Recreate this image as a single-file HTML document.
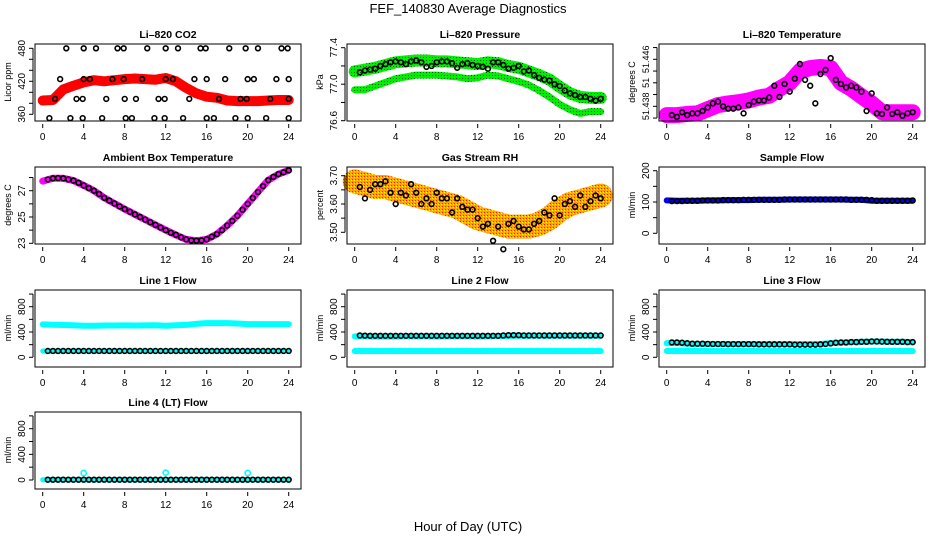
<!DOCTYPE html>
<html><head><meta charset="utf-8"><style>
html,body{margin:0;padding:0;background:#fff;}
svg{display:block;font-family:"Liberation Sans",sans-serif;}
</style></head><body>
<svg id="chart" width="936" height="540" viewBox="0 0 936 540">
<defs>
<pattern id="patGreen" width="3" height="3" patternUnits="userSpaceOnUse"><rect width="3" height="3" fill="#00ee00"/><rect width="1" height="1" fill="#005500"/></pattern>
<pattern id="patOrange" width="3" height="3" patternUnits="userSpaceOnUse"><rect width="3" height="3" fill="#ffa500"/><rect width="1" height="1" fill="#ffff00"/><rect x="1" y="2" width="1" height="1" fill="#ee2200"/></pattern>
</defs>
<text x="468" y="13" text-anchor="middle" font-size="13">FEF_140830  Average Diagnostics</text>
<text x="468" y="531" text-anchor="middle" font-size="13">Hour of Day (UTC)</text>
</svg>
<script>
// ---- data ----
const hours = [0,1,2,3,4,5,6,7,8,9,10,11,12,13,14,15,16,17,18,19,20,21,22,23,24];
const times = [0.5,1,1.5,2,2.5,3,3.5,4,4.5,5,5.5,6,6.5,7,7.5,8,8.5,9,9.5,10,10.5,11,11.5,12,12.5,13,13.5,14,14.5,15,15.5,16,16.5,17,17.5,18,18.5,19,19.5,20,20.5,21,21.5,22,22.5,23,23.5,24];
const xTicks = [0,4,8,12,16,20,24];

const co2Band = [385,386,405,412,418,422,420,422,424,425,424,423,426,420,408,398,392,390,385,384,384,384,385,386,386];
const co2Times = [2.3,4.0,5.2,7.3,7.9,10.2,12.0,13.2,15.4,15.9,18.2,19.8,21.0,23.3,23.9, 1.7,4.0,4.6,6.8,7.9,9.7,12.0,12.7,14.8,16.0,17.8,20.0,20.6,22.8,24.0, 1.2,3.3,3.9,6.2,8.0,9.1,11.3,11.9,14.3,17.2,19.3,19.9,22.2,24.0, 0.65,2.7,3.9,5.8,8.1,8.7,10.9,11.9,13.7,16.0,16.7,18.8,20.0,21.8,24.0];
const co2Vals = [480,480,480,480,480,480,480,480,480,480,480,480,480,480,480, 424,424,424,424,424,424,424,424,424,424,424,424,424,424,424, 388,388,388,388,388,388,388,388,388,388,388,388,388,388, 353,353,353,353,353,353,353,353,353,353,353,353,353,353,353];

const presUpper = [77.14,77.16,77.18,77.21,77.24,77.25,77.26,77.26,77.25,77.25,77.24,77.23,77.22,77.24,77.23,77.2,77.18,77.14,77.1,77.05,76.97,76.9,76.86,76.85,76.85];
const presLower = [76.94,76.94,76.98,77.02,77.06,77.08,77.1,77.1,77.1,77.09,77.08,77.06,77.07,77.1,77.09,77.06,77.03,76.99,76.93,76.86,76.78,76.72,76.68,76.7,76.7];
const presBlack = [77.13,77.15,77.16,77.17,77.2,77.22,77.24,77.25,77.24,77.22,77.25,77.26,77.24,77.19,77.2,77.24,77.25,77.25,77.23,77.18,77.22,77.23,77.21,77.2,77.19,77.17,77.24,77.24,77.21,77.17,77.18,77.2,77.14,77.15,77.1,77.07,77.05,77.04,77.0,76.98,76.93,76.9,76.88,76.86,76.86,76.84,76.82,76.84];

const ltBand = [51.4365,51.4365,51.4367,51.4368,51.4375,51.4382,51.4385,51.4387,51.439,51.4395,51.4398,51.441,51.442,51.444,51.4445,51.4447,51.4445,51.442,51.441,51.4397,51.4385,51.437,51.437,51.437,51.437];
const ltBlack = [51.4365,51.4362,51.437,51.4365,51.4368,51.4368,51.4372,51.4378,51.4385,51.4388,51.438,51.4376,51.4376,51.4378,51.4368,51.4382,51.4388,51.439,51.439,51.4395,51.4415,51.4396,51.4418,51.4405,51.4427,51.4452,51.4425,51.4415,51.4385,51.4435,51.4442,51.4462,51.4425,51.4418,51.4412,51.4415,51.4412,51.4405,51.4372,51.4402,51.4368,51.4367,51.4378,51.4367,51.437,51.4364,51.4368,51.437];

const ambBand = [27.73,27.94,27.94,27.77,27.4,27.0,26.46,26.03,25.6,25.2,24.8,24.4,24.0,23.64,23.3,23.2,23.3,23.7,24.35,25.1,26.0,26.9,27.8,28.26,28.55];
const ambBlack = [27.85,27.94,27.96,27.94,27.86,27.77,27.6,27.4,27.2,27.0,26.75,26.46,26.25,26.03,25.8,25.6,25.4,25.2,25.0,24.8,24.6,24.4,24.2,24.0,23.8,23.64,23.45,23.3,23.22,23.2,23.22,23.3,23.5,23.7,24.0,24.35,24.7,25.1,25.55,26.0,26.45,26.9,27.35,27.8,28.05,28.26,28.4,28.55];

const rhBand = [3.68,3.67,3.66,3.66,3.65,3.64,3.63,3.62,3.61,3.6,3.59,3.57,3.55,3.54,3.53,3.52,3.52,3.52,3.53,3.55,3.58,3.6,3.61,3.62,3.63];
const rhBlack = [3.66,3.62,3.65,3.67,3.67,3.68,3.64,3.6,3.64,3.63,3.67,3.64,3.6,3.62,3.6,3.64,3.62,3.62,3.57,3.62,3.59,3.58,3.58,3.55,3.52,3.53,3.47,3.52,3.44,3.53,3.54,3.52,3.51,3.51,3.53,3.54,3.57,3.56,3.62,3.56,3.6,3.61,3.59,3.63,3.59,3.61,3.63,3.62];

const sampleBand = [105,104,104,104,105,105,106,106,106,107,107,107,108,108,108,108,108,108,107,107,104,104,104,104,104];
const sampleBlack = [103,103,103,104,104,104,105,105,105,105,106,106,106,106,107,107,107,107,107,107,107,107,108,108,108,108,108,108,108,108,108,108,108,108,108,107,107,107,107,106,104,104,104,104,104,104,104,105];

const l1High = [520,515,510,508,500,500,502,503,505,503,505,508,500,508,512,530,540,540,540,535,525,525,525,525,525];
const l1Low = [100,100,100,100,100,100,100,100,100,100,100,100,100,100,100,100,100,100,100,100,100,100,100,100,100];
const l1Black = [100,100,100,100,100,100,100,100,100,100,100,100,100,100,100,100,100,100,100,100,100,100,100,100,100,100,100,100,100,100,100,100,100,100,100,100,100,100,100,100,100,100,100,100,100,100,100,100];

const l2High = [330,330,328,328,328,330,330,330,328,330,330,330,328,330,335,338,340,340,340,340,340,340,340,340,340];
const l2Low = [100,100,100,100,100,100,100,100,100,100,100,100,100,100,100,100,100,100,100,100,100,100,100,100,100];
const l2Black = [345,342,340,340,340,340,340,340,340,340,340,340,340,340,340,340,340,340,340,340,340,340,340,340,340,340,340,340,345,350,350,350,345,345,345,345,345,345,345,345,345,345,345,345,345,345,345,345];

const l3High = [225,225,215,210,210,210,210,210,210,210,210,210,210,210,210,210,225,230,240,245,250,250,245,245,240];
const l3Low = [100,100,100,100,100,100,100,100,100,100,100,100,100,100,100,100,100,100,100,100,100,100,100,100,100];
const l3Black = [235,235,230,222,215,215,215,212,210,210,210,208,208,208,208,208,208,205,205,205,205,205,205,205,200,200,200,200,200,205,210,220,230,235,235,240,240,245,245,250,250,248,245,245,245,245,240,240];

const l4Low = [5,5,5,5,5,5,5,5,5,5,5,5,5,5,5,5,5,5,5,5,5,5,5,5,5];
const l4OutT = [4,12,20];
const l4OutV = [110,115,110];
const l4Black = [5,5,5,5,5,5,5,5,5,5,5,5,5,5,5,5,5,5,5,5,5,5,5,5,5,5,5,5,5,5,5,5,5,5,5,5,5,5,5,5,5,5,5,5,5,5,5,5];

// ---- layout ----
const NS = 'http://www.w3.org/2000/svg';
const svg = document.getElementById('chart');
const colX = [0, 312, 624];
const rowTop = [44, 167, 290, 412];
const BOXL = 35, BOXR = 301, BOXH = 77;
function mk(tag, attrs, parent) {
  const e = document.createElementNS(NS, tag);
  for (const k in attrs) e.setAttribute(k, attrs[k]);
  (parent || svg).appendChild(e);
  return e;
}
function panel(cfg) {
  const g = mk('g', {});
  
  
  const ox = colX[cfg.col], top = rowTop[cfg.row];
  const xs = h => ox + 42.7 + h * (246 / 24);
  const ys = v => top + cfg.o1 + (v - cfg.v1) * (cfg.o2 - cfg.o1) / (cfg.v2 - cfg.v1);
  (cfg.bands || []).forEach(b => {
    const pts = hours.map((h, i) => xs(h).toFixed(1) + ',' + ys(b.vals[i]).toFixed(1)).join(' ');
    const pl = mk('polyline', {points: pts, fill: 'none', stroke: b.color, 'stroke-width': b.w, 'stroke-linejoin': 'round', 'stroke-linecap': 'round'}, g);
    
    
  });
  if (cfg.extra) {
    cfg.extra.t.forEach((t, i) => {
      const c = mk('circle', {cx: xs(t), cy: ys(cfg.extra.v[i]), r: 2.6, fill: 'none', stroke: cfg.extra.color, 'stroke-width': 1.6}, g);
      
      
    });
  }
  const bt = cfg.bt || times;
  cfg.black.forEach((v, i) => {
    const c = mk('circle', {cx: xs(bt[i]), cy: ys(v), r: 2.4, fill: 'none', stroke: '#000', 'stroke-width': 1.6}, g);
    
    
  });
  const box = mk('rect', {x: ox + BOXL, y: top, width: BOXR - BOXL, height: BOXH, fill: 'none', stroke: '#000', 'stroke-width': 1}, g);
  
  
  const t = mk('text', {x: ox + 168, y: top - 6, 'text-anchor': 'middle', 'font-size': 10.5, 'font-weight': 'bold'}, g);
  t.textContent = cfg.title;
  
  
  xTicks.forEach(h => {
    mk('line', {x1: xs(h), x2: xs(h), y1: top + BOXH + 3, y2: top + BOXH + 7, stroke: '#000'}, g);
    const l = mk('text', {x: xs(h), y: top + BOXH + 19, 'text-anchor': 'middle', 'font-size': 10}, g);
    l.textContent = h;
    
    
  });
  const yt = cfg.yTicks;
  mk('line', {x1: ox + 33, x2: ox + 33, y1: ys(yt[0]), y2: ys(yt[yt.length - 1]), stroke: '#000'}, g);
  yt.forEach(v => mk('line', {x1: ox + 29, x2: ox + 33, y1: ys(v), y2: ys(v), stroke: '#000'}, g));
  const fs = cfg.tickFont || 10;
  cfg.yLabels.forEach(v => {
    const y = ys(v);
    const l = mk('text', {x: ox + 25, y: y, 'text-anchor': 'middle', 'font-size': fs, transform: `rotate(-90 ${ox + 25} ${y})`}, g);
    l.textContent = cfg.fmt ? cfg.fmt(v) : v;
    
    
  });
  const yl = mk('text', {x: ox + 11, y: top + 38, 'text-anchor': 'middle', 'font-size': 9, transform: `rotate(-90 ${ox + 11} ${top + 38})`}, g);
  yl.textContent = cfg.ylab;
  
  
}

panel({name: 'co2-panel', col: 0, row: 0, title: 'Li\u2013820 CO2', ylab: 'Licor ppm', v1: 480, o1: 4.3, v2: 360, o2: 70.3,
  yTicks: [360,380,400,420,440,460,480], yLabels: [360,420,480],
  bands: [{name: 'co2-band', vals: co2Band, color: '#ff0000', w: 10}], black: co2Vals, bt: co2Times});
panel({name: 'pressure-panel', col: 1, row: 0, title: 'Li\u2013820 Pressure', ylab: 'kPa', v1: 77.4, o1: 3.7, v2: 76.6, o2: 76.7,
  yTicks: [76.6,76.8,77.0,77.2,77.4], yLabels: [76.6,77.0,77.4], fmt: v => v.toFixed(1),
  bands: [{name: 'pressure-upper-band', vals: presUpper, color: 'url(#patGreen)', w: 12}, {name: 'pressure-lower-band', vals: presLower, color: 'url(#patGreen)', w: 7}],
  black: presBlack});
panel({name: 'li820-temp-panel', col: 2, row: 0, title: 'Li\u2013820 Temperature', ylab: 'degrees C', v1: 51.446, o1: 15.3, v2: 51.438, o2: 62.3,
  yTicks: [51.436,51.438,51.44,51.442,51.444,51.446,51.448], yLabels: [51.438,51.442,51.446], tickFont: 9, fmt: v => v === 51.442 ? '51' : v.toFixed(3),
  bands: [{name: 'li820-temp-band', vals: ltBand, color: '#ff00ff', w: 16}], black: ltBlack});
panel({name: 'ambient-temp-panel', col: 0, row: 1, title: 'Ambient Box Temperature', ylab: 'degrees C', v1: 27, o1: 23.7, v2: 23, o2: 76.3,
  yTicks: [23,24,25,26,27,28], yLabels: [23,25,27],
  bands: [{name: 'ambient-temp-band', vals: ambBand, color: '#ff00ff', w: 7}], black: ambBlack});
panel({name: 'rh-panel', col: 1, row: 1, title: 'Gas Stream RH', ylab: 'percent', v1: 3.70, o1: 8.7, v2: 3.50, o2: 65.3,
  yTicks: [3.5,3.55,3.6,3.65,3.7], yLabels: [3.5,3.6,3.7], fmt: v => v.toFixed(2),
  bands: [{name: 'rh-band', vals: rhBand, color: 'url(#patOrange)', w: 24}], black: rhBlack});
panel({name: 'sample-flow-panel', col: 2, row: 1, title: 'Sample Flow', ylab: 'ml/min', v1: 200, o1: 3.7, v2: 0, o2: 66.3,
  yTicks: [0,50,100,150,200], yLabels: [0,100,200],
  bands: [{name: 'sample-flow-band', vals: sampleBand, color: '#0000ee', w: 6}], black: sampleBlack});
panel({name: 'line1-flow-panel', col: 0, row: 2, title: 'Line 1 Flow', ylab: 'ml/min', v1: 800, o1: 16.7, v2: 0, o2: 67.3,
  yTicks: [0,200,400,600,800,1000], yLabels: [0,400,800],
  bands: [{name: 'line1-high-band', vals: l1High, color: '#00ffff', w: 6}, {name: 'line1-low-band', vals: l1Low, color: '#00ffff', w: 5}], black: l1Black});
panel({name: 'line2-flow-panel', col: 1, row: 2, title: 'Line 2 Flow', ylab: 'ml/min', v1: 800, o1: 16.7, v2: 0, o2: 67.3,
  yTicks: [0,200,400,600,800,1000], yLabels: [0,400,800],
  bands: [{name: 'line2-high-band', vals: l2High, color: '#00ffff', w: 6}, {name: 'line2-low-band', vals: l2Low, color: '#00ffff', w: 6}], black: l2Black});
panel({name: 'line3-flow-panel', col: 2, row: 2, title: 'Line 3 Flow', ylab: 'ml/min', v1: 800, o1: 16.7, v2: 0, o2: 67.3,
  yTicks: [0,200,400,600,800,1000], yLabels: [0,400,800],
  bands: [{name: 'line3-high-band', vals: l3High, color: '#00ffff', w: 6}, {name: 'line3-low-band', vals: l3Low, color: '#00ffff', w: 6}], black: l3Black});
panel({name: 'line4-flow-panel', col: 0, row: 3, title: 'Line 4 (LT) Flow', ylab: 'ml/min', v1: 800, o1: 16.7, v2: 0, o2: 68,
  yTicks: [0,200,400,600,800,1000], yLabels: [0,400,800],
  bands: [{name: 'line4-band', vals: l4Low, color: '#00ffff', w: 5}], extra: {t: l4OutT, v: l4OutV, color: '#00ffff'}, black: l4Black});
</script>
</body></html>
